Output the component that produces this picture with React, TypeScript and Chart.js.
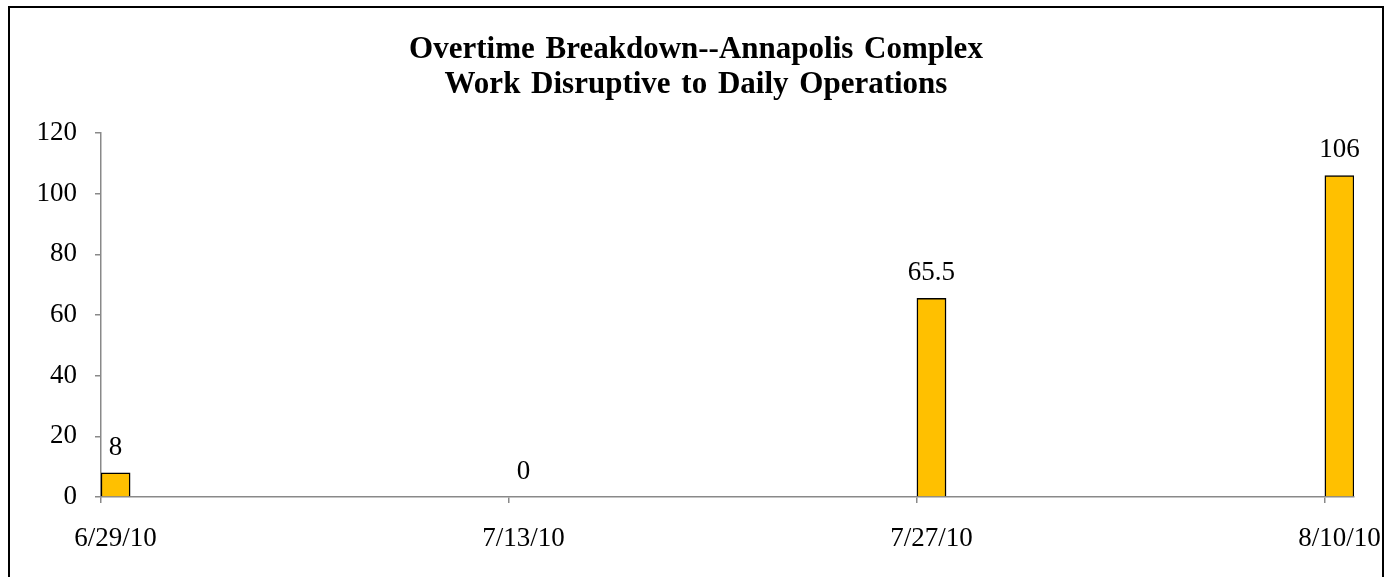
import React, { useEffect, useRef } from 'react';
import { Chart, registerables } from 'chart.js';

Chart.register(...registerables);

const titleLines = ['Overtime Breakdown--Annapolis Complex', 'Work Disruptive to Daily Operations'];
const periodDates = ['6/29/10', '7/13/10', '7/27/10', '8/10/10'];
const overtimeHours = [8, 0, 65.5, 106];
const yMin = 0;
const yMax = 120;
const yStep = 20;

const FONT = "'Liberation Serif', 'Times New Roman', serif";
const AXIS_GRAY = '#898989';

function parseDate(s: string): number {
  const [m, d, y] = s.split('/').map(Number);
  return Date.UTC(2000 + y, m - 1, d);
}
function formatDate(t: number): string {
  const d = new Date(t);
  return `${d.getUTCMonth() + 1}/${d.getUTCDate()}/${String(d.getUTCFullYear() % 100).padStart(2, '0')}`;
}

// one category per day, like an Excel date axis
const DAY = 86400000;
const dayLabels: string[] = [];
for (let t = parseDate(periodDates[0]); t <= parseDate(periodDates[periodDates.length - 1]); t += DAY) {
  dayLabels.push(formatDate(t));
}
const dayValues = dayLabels.map((l) => {
  const i = periodDates.indexOf(l);
  return i >= 0 ? overtimeHours[i] : null;
});

const valueLabels = {
  id: 'valueLabels',
  beforeDraw(chart: any) {
    const { ctx, width, height } = chart;
    ctx.fillStyle = '#ffffff';
    ctx.fillRect(0, 0, width, height);
    try {
      (ctx as any).wordSpacing = '3px';
    } catch (e) {
      /* ignore */
    }
  },
  afterDatasetsDraw(chart: any) {
    const { ctx } = chart;
    const meta = chart.getDatasetMeta(0);
    ctx.save();
    ctx.font = `27px ${FONT}`;
    ctx.fillStyle = '#000000';
    ctx.textAlign = 'center';
    ctx.textBaseline = 'alphabetic';
    meta.data.forEach((el: any, i: number) => {
      const v = chart.data.datasets[0].data[i];
      if (v === null || v === undefined) return;
      ctx.fillText(String(v), el.x, el.y - 18);
    });
    ctx.restore();
  },
};

export default function App() {
  const ref = useRef<HTMLCanvasElement>(null);
  useEffect(() => {
    if (!ref.current) return;
    const chart = new Chart(ref.current, {
      type: 'bar',
      data: {
        labels: dayLabels,
        datasets: [
          {
            data: dayValues,
            backgroundColor: '#FFC000',
            borderColor: '#000000',
            borderWidth: 1.5,
            barPercentage: 1,
            categoryPercentage: 1,
          },
        ],
      },
      options: {
        animation: false,
        responsive: false,
        maintainAspectRatio: false,
        layout: { padding: { left: 0, right: 0, top: 0, bottom: 0 } },
        plugins: {
          legend: { display: false },
          tooltip: { enabled: false },
          title: {
            display: true,
            text: titleLines,
            color: '#000000',
            font: { family: FONT, size: 31, weight: 'bold', lineHeight: '35px' as any },
            padding: { top: 24, bottom: 31 },
          },
        },
        scales: {
          x: {
            type: 'category',
            offset: true,
            afterFit: (s: any) => {
              s.height = 80;
              s.paddingLeft = 0;
              s.paddingRight = 28;
            },
            grid: {
              offset: true,
              drawOnChartArea: false,
              drawTicks: true,
              tickLength: 6,
              lineWidth: 1.5,
              color: (c: any) =>
                c.index !== undefined && c.index % 14 === 0 && c.index < dayLabels.length ? AXIS_GRAY : 'rgba(0,0,0,0)',
            },
            border: { display: true, color: AXIS_GRAY, width: 1.5 },
            ticks: {
              autoSkip: false,
              maxRotation: 0,
              minRotation: 0,
              padding: 20,
              color: '#000000',
              font: { family: FONT, size: 27 },
              callback: (_v: any, i: number) => (periodDates.includes(dayLabels[i]) ? dayLabels[i] : ''),
            },
          },
          y: {
            min: yMin,
            max: yMax,
            afterFit: (s: any) => {
              s.width = 91;
            },
            grid: {
              drawOnChartArea: false,
              drawTicks: true,
              tickLength: 6,
              lineWidth: 1.5,
              color: AXIS_GRAY,
            },
            border: { display: true, color: AXIS_GRAY, width: 1.5 },
            ticks: {
              stepSize: yStep,
              padding: 18,
              color: '#000000',
              font: { family: FONT, size: 27 },
            },
          },
        },
      },
      plugins: [valueLabels],
    });
    return () => chart.destroy();
  }, []);
  return (
    <div
      style={{
        position: 'absolute',
        left: 8,
        top: 6,
        width: 1376,
        height: 571,
        boxSizing: 'border-box',
        borderTop: '2px solid #000',
        borderLeft: '2px solid #000',
        borderRight: '2px solid #000',
        overflow: 'hidden',
      }}
    >
      <canvas ref={ref} width={1372} height={569} style={{ display: 'block' }} />
    </div>
  );
}
